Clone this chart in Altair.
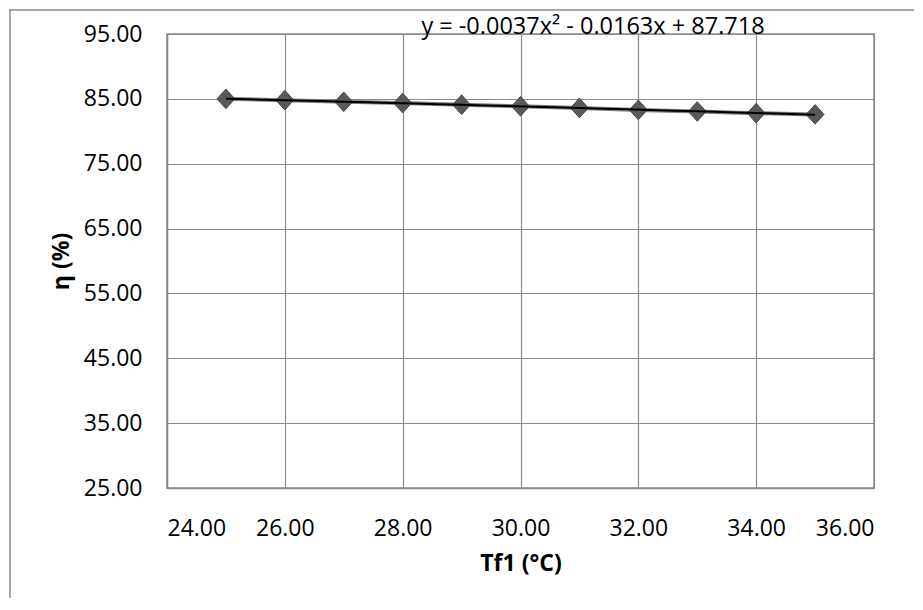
import altair as alt
import pandas as pd

# Data
tf1 = [25, 26, 27, 28, 29, 30, 31, 32, 33, 34, 35]
eta = [85.0, 84.8, 84.55, 84.35, 84.1, 83.85, 83.6, 83.3, 83.05, 82.8, 82.6]

x_ticks = [24, 26, 28, 30, 32, 34, 36]
y_ticks = [25, 35, 45, 55, 65, 75, 85, 95]
equation = ["y = -0.0037x² - 0.0163x + 87.718"]

df = pd.DataFrame({"Tf1": tf1, "eta": eta})
eq_df = pd.DataFrame({"label": equation})

FONT = "Open Sans"
GRID = "#8a8a8a"

x_enc = alt.X(
    "Tf1:Q",
    scale=alt.Scale(domain=[24, 36], nice=False, zero=False),
    axis=alt.Axis(
        values=x_ticks, format=".2f", title="Tf1 (°C)",
        grid=True, gridColor=GRID, gridWidth=1.2,
        domainColor=GRID, domainWidth=1.5,
        ticks=False, tickSize=0, labelPadding=29,
        labelFont=FONT, labelFontSize=23, labelColor="#000000",
        titleFont=FONT, titleFontSize=23, titleFontWeight="bold", titleColor="#000000",
        titleX=353.5, titleY=75, titleBaseline="middle",
    ),
)
y_enc = alt.Y(
    "eta:Q",
    scale=alt.Scale(domain=[25, 95], nice=False, zero=False),
    axis=alt.Axis(
        values=y_ticks, format=".2f", title="η (%)",
        grid=True, gridColor=GRID, gridWidth=1.2,
        domainColor=GRID, domainWidth=1.5,
        ticks=False, tickSize=0, labelPadding=25,
        labelFont=FONT, labelFontSize=23, labelColor="#000000",
        titleFont=FONT, titleFontSize=23, titleFontWeight="bold", titleColor="#000000",
        titleX=-106, titleY=227, titleAngle=270, titleBaseline="middle",
    ),
)

base = alt.Chart(df)

series_line = base.mark_line(color="#7f7f7f", strokeWidth=4).encode(x=x_enc, y=y_enc)

points = base.mark_point(
    shape="M-1,0L0,-1.1L1,0L0,1.1Z", filled=True, size=320,
    fill="#595959", stroke="#4a4a4a", strokeWidth=1, opacity=1,
).encode(x="Tf1:Q", y="eta:Q")

trend = base.transform_regression(
    "Tf1", "eta", method="poly", order=2, extent=[25, 35]
).mark_line(color="#000000", strokeWidth=2).encode(x="Tf1:Q", y="eta:Q")

eq_text = alt.Chart(eq_df).mark_text(
    font=FONT, fontSize=23.5, color="#000000", align="center", baseline="middle"
).encode(text="label:N", x=alt.value(426), y=alt.value(-7))

frame_top = alt.Chart(eq_df).mark_rule(color="#8a8a8a", strokeWidth=1.5).encode(
    x=alt.value(-158), x2=alt.value(780), y=alt.value(-24)
)
frame_left = alt.Chart(eq_df).mark_rule(color="#8a8a8a", strokeWidth=1.5).encode(
    x=alt.value(-157), y=alt.value(-25), y2=alt.value(700)
)

chart = alt.layer(frame_top, frame_left, series_line, points, trend, eq_text).properties(
    width=707, height=454,
    autosize=alt.AutoSizeParams(type="none"),
    padding={"left": 159, "top": 26, "right": 40, "bottom": 110},
    background="#ffffff",
).configure_view(stroke=GRID, strokeWidth=1.5)

chart.save("out.html", embed_options={"renderer": "svg", "actions": False})
